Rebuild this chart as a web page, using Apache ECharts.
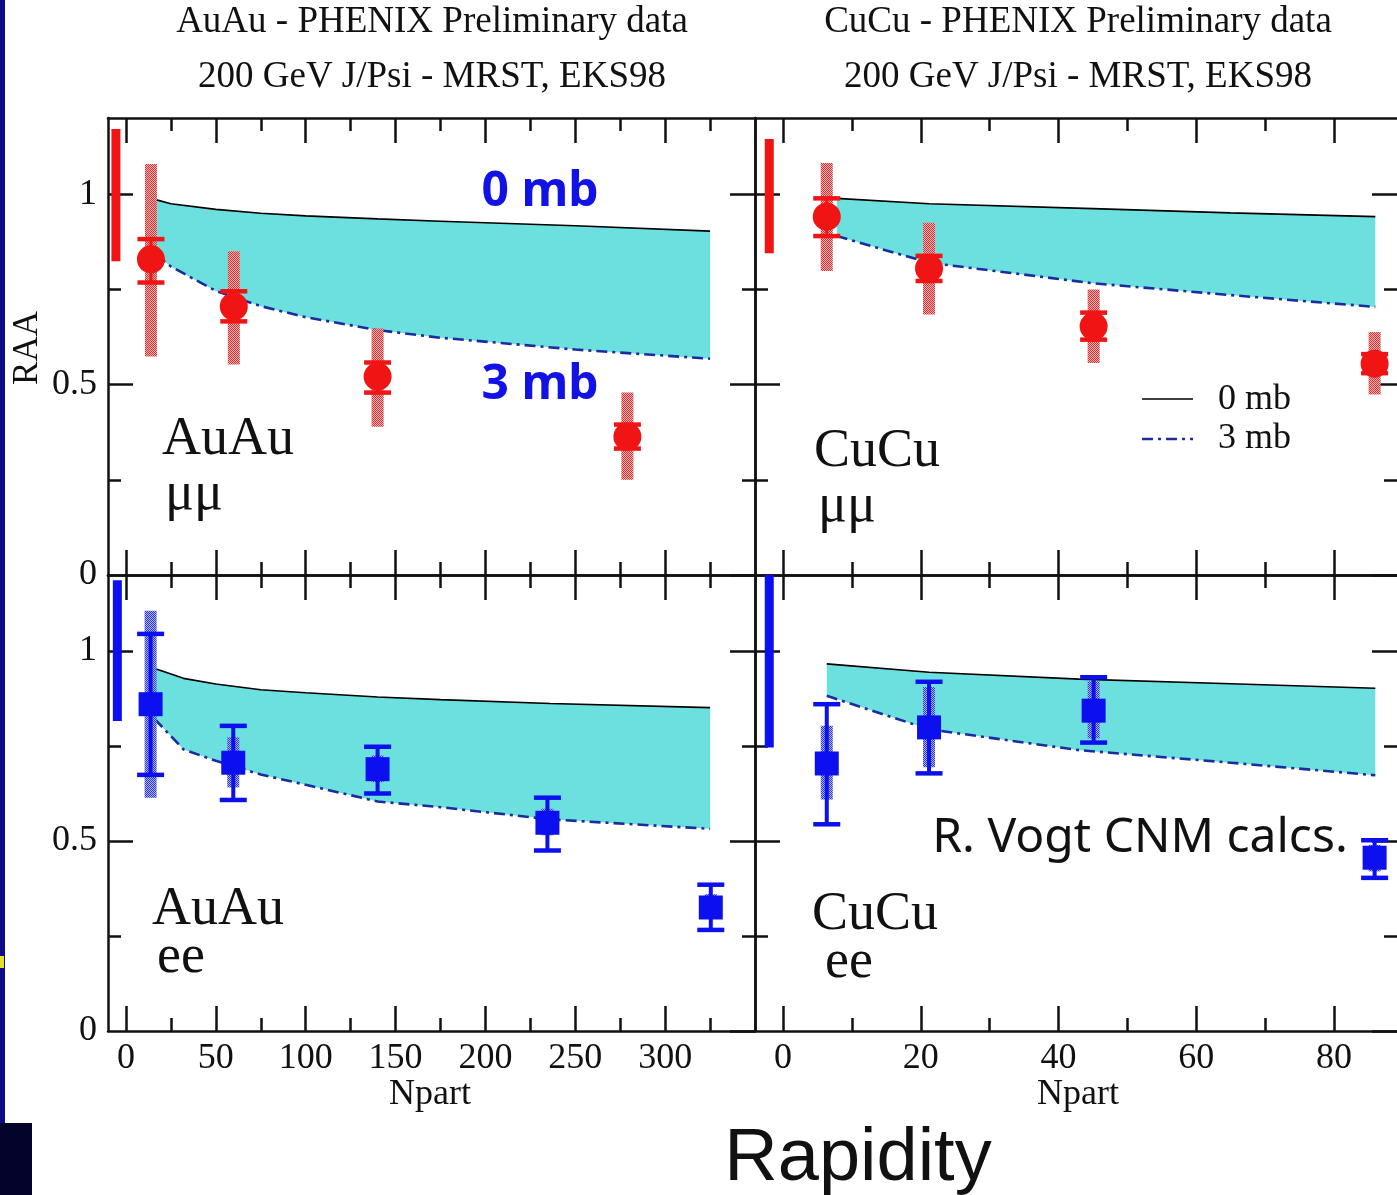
<!DOCTYPE html>
<html><head><meta charset="utf-8">
<script src="https://cdn.jsdelivr.net/npm/echarts@6/dist/echarts.min.js"></script>
<style>html,body{margin:0;padding:0;background:#fff;overflow:hidden}#c{width:1397px;height:1195px}</style>
</head><body><div id="c"></div><script>
// ---------------- DATA ----------------
// AuAu mu-mu (forward rapidity)
const auMuN       = [13.9, 60, 140, 279];
const auMuR       = [0.829, 0.705, 0.521, 0.363];
const auMuStatLo  = [0.768, 0.666, 0.479, 0.332];
const auMuStatHi  = [0.882, 0.745, 0.558, 0.395];
const auMuSysLo   = [0.574, 0.553, 0.389, 0.250];
const auMuSysHi   = [1.079, 0.850, 0.647, 0.479];
const auMuGlobal  = [-5.6, 0.824, 1.171];
const auMuThN     = [17, 25, 50, 75, 100, 140, 175, 250, 325];
const auMuTh0     = [0.985, 0.975, 0.960, 0.950, 0.943, 0.935, 0.929, 0.917, 0.903];
const auMuTh3     = [0.840, 0.810, 0.746, 0.706, 0.677, 0.643, 0.623, 0.592, 0.568];
// CuCu mu-mu
const cuMuN       = [6.35, 21.2, 45.1, 85.9];
const cuMuR       = [0.941, 0.805, 0.653, 0.555];
const cuMuStatLo  = [0.890, 0.772, 0.618, 0.530];
const cuMuStatHi  = [0.989, 0.838, 0.689, 0.580];
const cuMuSysLo   = [0.798, 0.684, 0.557, 0.474];
const cuMuSysHi   = [1.082, 0.925, 0.750, 0.638];
const cuMuGlobal  = [-2.0, 0.845, 1.145];
const cuMuThN     = [7.8, 21.2, 45, 65, 86];
const cuMuTh0     = [0.989, 0.975, 0.962, 0.951, 0.941];
const cuMuTh3     = [0.890, 0.820, 0.766, 0.735, 0.704];
// AuAu e-e (mid rapidity)
const auEeN       = [13.7, 59.7, 140, 234.5, 325.4];
const auEeR       = [0.860, 0.706, 0.689, 0.548, 0.325];
const auEeStatLo  = [0.674, 0.608, 0.625, 0.475, 0.266];
const auEeStatHi  = [1.045, 0.803, 0.748, 0.614, 0.385];
const auEeSysLo   = [0.614, 0.641, 0.655, 0.515, 0.295];
const auEeSysHi   = [1.106, 0.773, 0.725, 0.585, 0.360];
const auEeGlobal  = [-4.8, 0.816, 1.186];
const auEeThN     = [16, 32, 50, 75, 100, 140, 175, 236, 325];
const auEeTh0     = [0.954, 0.928, 0.913, 0.898, 0.890, 0.879, 0.872, 0.862, 0.851];
const auEeTh3     = [0.821, 0.741, 0.711, 0.675, 0.648, 0.604, 0.589, 0.557, 0.532];
// CuCu e-e
const cuEeN       = [6.35, 21.2, 45.1, 85.9];
const cuEeR       = [0.704, 0.799, 0.843, 0.456];
const cuEeStatLo  = [0.544, 0.678, 0.759, 0.403];
const cuEeStatHi  = [0.860, 0.919, 0.931, 0.502];
const cuEeSysLo   = [0.609, 0.694, 0.770, 0.420];
const cuEeSysHi   = [0.803, 0.905, 0.920, 0.490];
const cuEeGlobal  = [-2.0, 0.746, 1.200];
const cuEeThN     = [6.35, 21.2, 43, 65, 86];
const cuEeTh0     = [0.966, 0.944, 0.926, 0.914, 0.902];
const cuEeTh3     = [0.882, 0.794, 0.739, 0.706, 0.673];
// Axes ticks
const auTicksMajor = [0, 50, 100, 150, 200, 250, 300];
const auTicksMinor = [25, 75, 125, 175, 225, 275, 325];
const cuTicksMajor = [0, 20, 40, 60, 80];
const cuTicksMinor = [10, 30, 50, 70];
const yTicksMajor  = [0, 0.5, 1];
const yTicksMinor  = [0.25, 0.75];
const yMajorStep   = 0.5;

// ---------------- STYLE ----------------
const INK = '#111';
const RED = '#f01414', BLUE = '#0c10ee';
const CYAN = '#6cdfdf';
const DASH3 = '#1a2c9e';
function checker(c1, c2) {
  const cv = document.createElement('canvas'); cv.width = 2; cv.height = 2;
  const ctx = cv.getContext('2d');
  ctx.fillStyle = c2; ctx.fillRect(0, 0, 2, 2);
  ctx.fillStyle = c1; ctx.fillRect(0, 0, 1, 1); ctx.fillRect(1, 1, 1, 1);
  return {image: cv, repeat: 'repeat'};
}
const RED_SYS = checker('#d83030', '#f2b4b4');
const BLUE_SYS = checker('#2a36e0', '#aeb4f2');

const panels = [
  {rect:{left:108, top:118, width:647, height:457}, xmin:-10, xmax:350, maj:auTicksMajor, min:auTicksMinor, xlab:false, ylab:true, rline:true,
   N:auMuN, R:auMuR, sLo:auMuStatLo, sHi:auMuStatHi, yLo:auMuSysLo, yHi:auMuSysHi, G:auMuGlobal, tN:auMuThN, t0:auMuTh0, t3:auMuTh3, kind:'mu'},
  {rect:{left:755, top:118, width:642, height:457}, xmin:-4.07, xmax:89.15, maj:cuTicksMajor, min:cuTicksMinor, xlab:false, ylab:false, rline:false,
   N:cuMuN, R:cuMuR, sLo:cuMuStatLo, sHi:cuMuStatHi, yLo:cuMuSysLo, yHi:cuMuSysHi, G:cuMuGlobal, tN:cuMuThN, t0:cuMuTh0, t3:cuMuTh3, kind:'mu'},
  {rect:{left:108, top:575, width:647, height:456}, xmin:-10, xmax:350, maj:auTicksMajor, min:auTicksMinor, xlab:true, ylab:true, rline:true,
   N:auEeN, R:auEeR, sLo:auEeStatLo, sHi:auEeStatHi, yLo:auEeSysLo, yHi:auEeSysHi, G:auEeGlobal, tN:auEeThN, t0:auEeTh0, t3:auEeTh3, kind:'ee'},
  {rect:{left:755, top:575, width:642, height:456}, xmin:-4.07, xmax:89.15, maj:cuTicksMajor, min:cuTicksMinor, xlab:true, ylab:false, rline:false,
   N:cuEeN, R:cuEeR, sLo:cuEeStatLo, sHi:cuEeStatHi, yLo:cuEeSysLo, yHi:cuEeSysHi, G:cuEeGlobal, tN:cuEeThN, t0:cuEeTh0, t3:cuEeTh3, kind:'ee'}
];

const tickLine = {color: INK, width: 2.5};
const axLine = {show: true, onZero: false, lineStyle: {color: INK, width: 2.5}};
const noLine = {show: false, onZero: false};
const noTick = {show: false};
const noLabel = {show: false};
const labelStyle = {fontFamily: 'Liberation Serif', fontSize: 36, color: INK};

const grid = [], xAxis = [], yAxis = [], series = [];
panels.forEach((p, g) => {
  // overlapping grids per panel: data + frame, minor ticks, tick labels, and a narrow strip for left major ticks
  const gMain = grid.length, gMinor = gMain + 1, gLab = gMain + 2, gLeft = gMain + 3;
  for (let k = 0; k < 3; k++) grid.push(Object.assign({containLabel: false}, p.rect));
  grid.push({containLabel: false, left: p.rect.left, top: p.rect.top, width: 25, height: p.rect.height});
  const xb = (gi) => ({gridIndex: gi, type: 'value', min: p.xmin, max: p.xmax, splitLine: {show: false}});
  const yb = (gi) => ({gridIndex: gi, type: 'value', min: 0, max: 1.2, splitLine: {show: false}});
  const tk = (vals, len) => ({show: true, inside: true, length: len, customValues: vals, lineStyle: tickLine});
  const xi = xAxis.length, yi = yAxis.length;
  xAxis.push(
    Object.assign(xb(gMain), {position: 'bottom', axisLine: axLine, axisTick: tk(p.maj, 25), axisLabel: noLabel}),
    Object.assign(xb(gMain), {position: 'top', axisLine: axLine, axisTick: tk(p.maj, 25), axisLabel: noLabel}),
    Object.assign(xb(gMinor), {position: 'bottom', axisLine: noLine, axisTick: tk(p.min, 13), axisLabel: noLabel}),
    Object.assign(xb(gMinor), {position: 'top', axisLine: noLine, axisTick: tk(p.min, 13), axisLabel: noLabel}),
    Object.assign(xb(gLab), {position: 'bottom', axisLine: noLine, axisTick: noTick,
      axisLabel: Object.assign({show: p.xlab, customValues: p.maj, margin: 10}, labelStyle)}),
    {gridIndex: gLeft, type: 'value', min: 0, max: 1, show: false}
  );
  yAxis.push(
    Object.assign(yb(gMain), {position: 'right', axisLine: p.rline ? axLine : noLine, axisTick: tk(yTicksMajor, 25), axisLabel: noLabel}),
    Object.assign(yb(gMinor), {position: 'left', axisLine: noLine, axisTick: tk(yTicksMinor, 13), axisLabel: noLabel}),
    Object.assign(yb(gMinor), {position: 'right', axisLine: noLine, axisTick: tk(yTicksMinor, 13), axisLabel: noLabel}),
    Object.assign(yb(gLab), {position: 'left', axisLine: axLine, axisTick: noTick,
      axisLabel: Object.assign({show: p.ylab, customValues: yTicksMajor, margin: 11}, labelStyle)}),
    // left-edge major ticks: split lines of a 25px-wide strip grid
    {gridIndex: gLeft, type: 'value', min: 0, max: 1.2, interval: yMajorStep, position: 'left',
     axisLine: noLine, axisTick: noTick, axisLabel: noLabel,
     splitLine: {show: true, showMinLine: false, showMaxLine: false, lineStyle: {color: INK, width: 2.5, type: 'solid'}}}
  );
  const isMu = p.kind === 'mu';
  const col = isMu ? RED : BLUE;
  // theory band
  series.push({type: 'custom', xAxisIndex: xi, yAxisIndex: yi, z: 1, clip: true, silent: true,
    data: [[p.tN[0], p.t0[0]]],
    renderItem: (params, api) => {
      const up = p.tN.map((n, i) => api.coord([n, p.t0[i]]));
      const lo = p.tN.map((n, i) => api.coord([n, p.t3[i]])).reverse();
      return {type: 'polygon', shape: {points: up.concat(lo)}, style: {fill: CYAN}};
    }});
  series.push({type: 'line', name: '0 mb', xAxisIndex: xi, yAxisIndex: yi, z: 2, symbol: 'none', silent: true,
    data: p.tN.map((n, i) => [n, p.t0[i]]), lineStyle: {color: '#000', width: 1.6}});
  series.push({type: 'line', name: '3 mb', xAxisIndex: xi, yAxisIndex: yi, z: 2, symbol: 'none', silent: true,
    data: p.tN.map((n, i) => [n, p.t3[i]]), lineStyle: {color: DASH3, width: 2.6, type: [11, 5, 3, 5]}});
  // global uncertainty bar
  series.push({type: 'custom', xAxisIndex: xi, yAxisIndex: yi, z: 3, clip: true, silent: true,
    data: [p.G],
    renderItem: (params, api) => {
      const a = api.coord([api.value(0), api.value(2)]), b = api.coord([api.value(0), api.value(1)]);
      return {type: 'rect', shape: {x: a[0] - 4.5, y: a[1], width: 9, height: b[1] - a[1]}, style: {fill: col}};
    }});
  // systematic boxes
  series.push({type: 'custom', xAxisIndex: xi, yAxisIndex: yi, z: 3, clip: true, silent: true,
    data: p.N.map((n, i) => [n, p.yLo[i], p.yHi[i]]),
    renderItem: (params, api) => {
      const a = api.coord([api.value(0), api.value(2)]), b = api.coord([api.value(0), api.value(1)]);
      return {type: 'rect', shape: {x: a[0] - 6, y: a[1], width: 12, height: b[1] - a[1]}, style: {fill: isMu ? RED_SYS : BLUE_SYS}};
    }});
  // statistical error bars
  series.push({type: 'custom', xAxisIndex: xi, yAxisIndex: yi, z: 4, clip: true, silent: true,
    data: p.N.map((n, i) => [n, p.sLo[i], p.sHi[i]]),
    renderItem: (params, api) => {
      const a = api.coord([api.value(0), api.value(2)]), b = api.coord([api.value(0), api.value(1)]);
      const cw = 27, th = 4.5, sw = isMu ? 3 : 4;
      return {type: 'group', children: [
        {type: 'rect', shape: {x: a[0] - sw / 2, y: a[1], width: sw, height: b[1] - a[1]}, style: {fill: col}},
        {type: 'rect', shape: {x: a[0] - cw / 2, y: a[1] - th / 2, width: cw, height: th}, style: {fill: col}},
        {type: 'rect', shape: {x: b[0] - cw / 2, y: b[1] - th / 2, width: cw, height: th}, style: {fill: col}}
      ]};
    }});
  // data markers
  series.push({type: 'scatter', xAxisIndex: xi, yAxisIndex: yi, z: 5, silent: true,
    symbol: isMu ? 'circle' : 'rect', symbolSize: isMu ? 28 : 24,
    itemStyle: {color: col, opacity: 1},
    data: p.N.map((n, i) => [n, p.R[i]])});
});

function txt(s, x, y, font, fill, align, extra) {
  return Object.assign({type: 'text', x: x, y: y, z: 100, silent: true,
    style: {text: s, font: font, fill: fill || INK, align: align || 'center', verticalAlign: 'middle',
            textAlign: align || 'center', textVerticalAlign: 'middle'}}, extra || {});
}
const SERIF = '"Liberation Serif", "Times New Roman", serif';
const graphic = [
  {type: 'rect', shape: {x: 0, y: 0, width: 5, height: 1123}, style: {fill: '#0c0c88'}, z: 100},
  {type: 'rect', shape: {x: 0, y: 1123, width: 32, height: 72}, style: {fill: '#03032c'}, z: 100},
  {type: 'rect', shape: {x: 0, y: 956, width: 4, height: 12}, style: {fill: '#e8e020'}, z: 100},
  txt('AuAu - PHENIX Preliminary data', 432, 22, '37px ' + SERIF),
  txt('200 GeV J/Psi - MRST, EKS98', 432, 77, '37px ' + SERIF),
  txt('CuCu - PHENIX Preliminary data', 1078, 22, '37px ' + SERIF),
  txt('200 GeV J/Psi - MRST, EKS98', 1078, 77, '37px ' + SERIF),
  txt('RAA', 28, 348, '35px ' + SERIF, INK, 'center', {rotation: Math.PI / 2}),
  txt('Npart', 430, 1095, '36px ' + SERIF),
  txt('Npart', 1078, 1095, '36px ' + SERIF),
  txt('Rapidity', 858, 1160, '74px "Liberation Sans", Arial, sans-serif'),
  txt('0 mb', 540, 192, 'bold 48px "Noto Sans", sans-serif', '#1212e6'),
  txt('3 mb', 540, 385, 'bold 48px "Noto Sans", sans-serif', '#1212e6'),
  txt('AuAu', 162, 440, '54px ' + SERIF, INK, 'left'),
  txt('\u03bc\u03bc', 165, 495, '54px ' + SERIF, INK, 'left'),
  txt('CuCu', 814, 452, '54px ' + SERIF, INK, 'left'),
  txt('\u03bc\u03bc', 818, 507, '54px ' + SERIF, INK, 'left'),
  txt('AuAu', 152, 910, '54px ' + SERIF, INK, 'left'),
  txt('ee', 157, 958, '54px ' + SERIF, INK, 'left'),
  txt('CuCu', 812, 915, '54px ' + SERIF, INK, 'left'),
  txt('ee', 825, 963, '54px ' + SERIF, INK, 'left'),
  {type: 'line', shape: {x1: 1142, y1: 399, x2: 1193, y2: 399}, style: {stroke: '#000', lineWidth: 1.6}, z: 100},
  {type: 'line', shape: {x1: 1142, y1: 439, x2: 1193, y2: 439}, style: {stroke: DASH3, lineWidth: 2.6, lineDash: [11, 5, 3, 5]}, z: 100},
  txt('0 mb', 1218, 400, '36px ' + SERIF, INK, 'left'),
  txt('3 mb', 1218, 439, '36px ' + SERIF, INK, 'left'),
  txt('R. Vogt CNM calcs.', 1140, 838, '48px "Noto Sans", sans-serif')
];

const chart = echarts.init(document.getElementById('c'), null, {renderer: 'canvas'});
chart.setOption({
  animation: false,
  backgroundColor: '#ffffff',
  grid, xAxis, yAxis, series, graphic
});
</script></body></html>
